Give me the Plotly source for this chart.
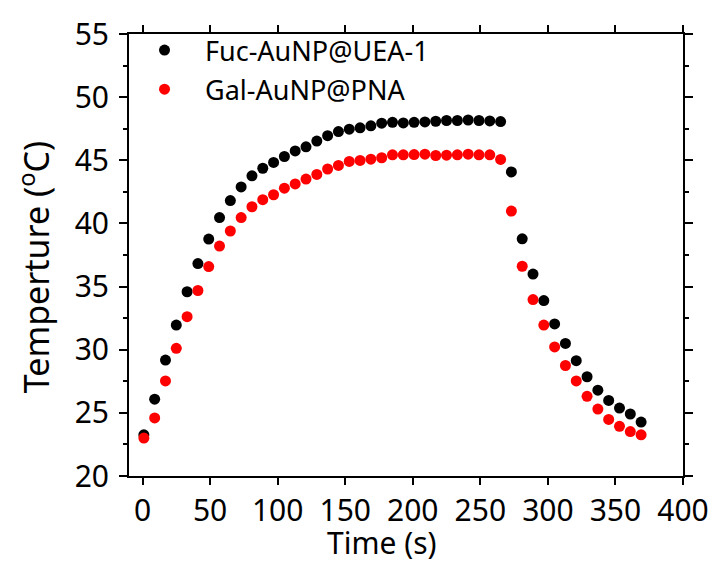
import plotly.graph_objects as go

time_s = [1, 9, 17, 25, 33, 41, 49, 57, 65, 73, 81, 89, 97, 105, 113, 121, 129, 137,
          145, 153, 161, 169, 177, 185, 193, 201, 209, 217, 225, 233, 241, 249, 257,
          265, 273, 281, 289, 297, 305, 313, 321, 329, 337, 345, 353, 361, 369]

fuc_temp = [23.26, 26.08, 29.18, 31.95, 34.59, 36.82, 38.76, 40.46, 41.81, 42.89,
            43.77, 44.37, 44.83, 45.30, 45.74, 46.07, 46.52, 46.95, 47.27, 47.46,
            47.57, 47.73, 47.94, 48.01, 47.96, 48.01, 48.04, 48.09, 48.15, 48.15,
            48.19, 48.15, 48.12, 48.07, 44.08, 38.78, 35.99, 33.89, 32.04, 30.50,
            29.13, 27.86, 26.80, 25.98, 25.38, 24.91, 24.27]

gal_temp = [23.00, 24.60, 27.53, 30.11, 32.62, 34.69, 36.58, 38.21, 39.40, 40.46,
            41.32, 41.88, 42.27, 42.79, 43.13, 43.51, 43.88, 44.31, 44.59, 44.91,
            44.99, 45.09, 45.20, 45.43, 45.43, 45.45, 45.48, 45.38, 45.40, 45.43,
            45.48, 45.43, 45.43, 45.07, 40.98, 36.61, 33.97, 31.95, 30.22, 28.75,
            27.53, 26.31, 25.30, 24.48, 23.93, 23.52, 23.26]

series_names = ["Fuc-AuNP@UEA-1", "Gal-AuNP@PNA"]
series_colors = ["#000000", "#ff0000"]

x_ticks = [0, 50, 100, 150, 200, 250, 300, 350, 400]
y_ticks = [20, 25, 30, 35, 40, 45, 50, 55]

FONT = "Noto Sans"

fig = go.Figure()
for name, vals, col in zip(series_names, [fuc_temp, gal_temp], series_colors):
    fig.add_trace(go.Scatter(
        x=time_s, y=vals, mode="markers", name=name, legendgroup=name,
        marker=dict(size=11, color=col, line=dict(width=0)),
    ))

axis_common = dict(
    showline=True, linecolor="black", linewidth=2, mirror="allticks",
    ticks="outside", tickcolor="black", tickwidth=2,
    showgrid=False, zeroline=False,
    tickfont=dict(family=FONT, size=30, color="black"),
)

fig.update_xaxes(range=[-10, 400], tickvals=x_ticks, ticklen=7, **axis_common)
fig.update_yaxes(range=[20, 55], tickvals=y_ticks, ticklen=8, ticklabelstandoff=4,
                 minor=dict(dtick=2.5, ticklen=4, tickwidth=2, tickcolor="black", ticks="outside"),
                 **axis_common)

fig.add_annotation(text="Time (s)", xref="paper", yref="paper",
                   x=(385 - 129) / 560, y=-(544 - 476) / 451,
                   showarrow=False, font=dict(family=FONT, size=30, color="black"),
                   xanchor="center", yanchor="middle")
fig.add_annotation(text="Temperture (<sup>o</sup>C)", xref="paper", yref="paper",
                   x=-(129 - 33) / 560, y=(476 - 263) / 451, textangle=-90,
                   showarrow=False, font=dict(family=FONT, size=34, color="black"),
                   xanchor="center", yanchor="middle")

fig.update_layout(
    width=721, height=563,
    margin=dict(l=129, r=32, t=25, b=87),
    plot_bgcolor="white", paper_bgcolor="white",
    showlegend=True,
    legend=dict(x=-0.009, y=1.018, xanchor="left", yanchor="top",
                font=dict(family=FONT, size=27, color="black"),
                bgcolor="rgba(0,0,0,0)", itemwidth=71, tracegroupgap=1),
)

fig.write_html("out.html")
